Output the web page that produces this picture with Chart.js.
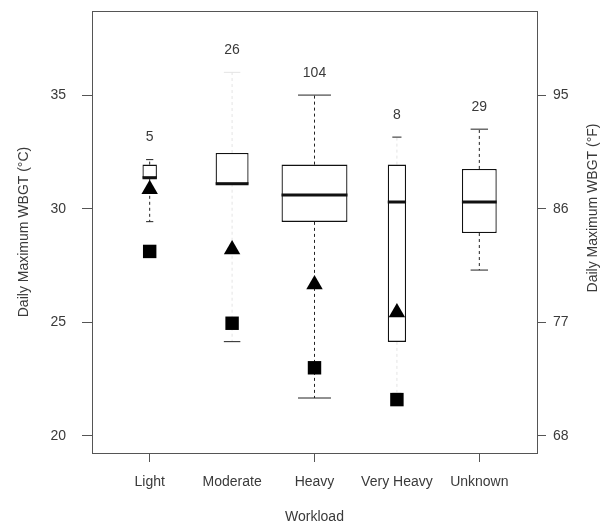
<!DOCTYPE html>
<html lang="en">
<head>
<meta charset="UTF-8">
<title>Daily Maximum WBGT by Workload</title>
<style>
  html, body { margin: 0; padding: 0; background: #fff; }
  #wrap { width: 604px; height: 524px; }
</style>
<script src="https://cdn.jsdelivr.net/npm/chart.js"></script>
</head>
<body>
<div id="wrap"><canvas id="chart"></canvas></div>
<script>
// workload groups and number of days in each
const workloads = ['Light', 'Moderate', 'Heavy', 'Very Heavy', 'Unknown'];
const counts = [5, 26, 104, 8, 29];

// box plot numbers in deg C
const whiskerLow  = [29.43, 24.15, 21.67, 21.9, 27.3];
const quartile1   = [31.36, 31.1, 29.42, 24.14, 28.93];
const medians     = [31.36, 31.1, 30.6, 30.3, 30.3];
const quartile3   = [31.94, 32.45, 31.94, 31.94, 31.75];
const whiskerHigh = [32.16, 36.0, 35.0, 33.15, 33.5];

// extra markers per group (none drawn for Unknown)
const triangles = [30.86, 28.2, 26.67, 25.43, null];
const squares   = [28.12, 24.96, 23.0, 21.6, null];

const celsiusTicks = [20, 25, 30, 35];
const fahrenheitTicks = [68, 77, 86, 95];

const yMin = 19.25, yMax = 38.7;
const toF = c => c * 1.8 + 32;

// these whiskers / caps come out very pale in the original scan
const paleWhiskers = ['Moderate', 'Very Heavy'];
const paleUpperCaps = ['Moderate'];
const paleLowerCaps = ['Very Heavy'];

Chart.defaults.font.family = '"Liberation Sans", Arial, sans-serif';
Chart.defaults.font.size = 14;
Chart.defaults.color = '#3a3a3a';

const maxN = Math.max(...counts);
const boxFrac = counts.map(n => 0.8 * Math.sqrt(n / maxN)); // varwidth boxes
const halfW = boxFrac.map(f => f / 2);

// turn [[a, b], ...] into points with a gap after each pair
function pieces(pairs) {
  const pts = [];
  pairs.forEach(([a, b]) => pts.push(a, b, { x: a.x, y: null }));
  return pts;
}

function whiskerPairs(pale) {
  const out = [];
  workloads.forEach((w, i) => {
    if (paleWhiskers.includes(w) !== pale) return;
    const x = i + 1;
    out.push([{ x, y: quartile3[i] }, { x, y: whiskerHigh[i] }]);
    out.push([{ x, y: quartile1[i] }, { x, y: whiskerLow[i] }]);
  });
  return out;
}

function capPairs(pale) {
  const out = [];
  workloads.forEach((w, i) => {
    const x = i + 1, c = halfW[i] / 2;
    if (paleUpperCaps.includes(w) === pale) out.push([{ x: x - c, y: whiskerHigh[i] }, { x: x + c, y: whiskerHigh[i] }]);
    if (paleLowerCaps.includes(w) === pale) out.push([{ x: x - c, y: whiskerLow[i] }, { x: x + c, y: whiskerLow[i] }]);
  });
  return out;
}

const lineBase = { type: 'line', pointRadius: 0, spanGaps: false, borderWidth: 1, fill: false };

const boxSets = workloads.map((w, i) => ({
  type: 'bar',
  label: w,
  data: [{ x: i + 1, y: [quartile1[i], quartile3[i]] }],
  grouped: false,
  categoryPercentage: 1,
  barPercentage: boxFrac[i],
  backgroundColor: '#fff',
  borderColor: '#111',
  borderWidth: 1.3,
  borderSkipped: false,
  order: 3
}));

const datasets = [
  Object.assign({}, lineBase, { label: 'whiskers', data: pieces(whiskerPairs(false)), borderColor: '#222', borderDash: [3, 3], order: 5 }),
  Object.assign({}, lineBase, { label: 'pale whiskers', data: pieces(whiskerPairs(true)), borderColor: '#e4e4e4', borderDash: [3, 3], order: 5 }),
  Object.assign({}, lineBase, { label: 'caps', data: pieces(capPairs(false)), borderColor: '#222', order: 4 }),
  Object.assign({}, lineBase, { label: 'pale caps', data: pieces(capPairs(true)), borderColor: '#e4e4e4', order: 4 }),
  ...boxSets,
  Object.assign({}, lineBase, {
    label: 'medians',
    data: pieces(workloads.map((w, i) => [{ x: i + 1 - halfW[i], y: medians[i] }, { x: i + 1 + halfW[i], y: medians[i] }])),
    borderColor: '#111', borderWidth: 3, borderCapStyle: 'butt', order: 2
  }),
  {
    type: 'line', label: 'triangles', showLine: false,
    data: triangles.map((v, i) => ({ x: i + 1, y: v })),
    pointStyle: 'triangle', pointRadius: 9.5, pointBorderWidth: 0,
    pointBackgroundColor: '#000', order: 1
  },
  {
    type: 'line', label: 'squares', showLine: false,
    data: squares.map((v, i) => ({ x: i + 1, y: v })),
    pointStyle: 'rect', pointRadius: 9.5, pointBorderWidth: 0,
    pointBackgroundColor: '#000', order: 1
  }
];

const extras = {
  id: 'extras',
  afterDatasetsDraw(chart) {
    const { ctx, chartArea: a, scales } = chart;
    ctx.save();
    // top side of the frame
    ctx.strokeStyle = '#555';
    ctx.lineWidth = 1;
    ctx.beginPath();
    ctx.moveTo(a.left, a.top + 0.5);
    ctx.lineTo(a.right, a.top + 0.5);
    ctx.stroke();
    // group sizes over the upper whisker
    ctx.fillStyle = '#3a3a3a';
    ctx.font = '14px "Liberation Sans", Arial, sans-serif';
    ctx.textAlign = 'center';
    ctx.textBaseline = 'middle';
    counts.forEach((n, i) => {
      ctx.fillText(String(n), scales.x.getPixelForValue(i + 1), scales.y.getPixelForValue(whiskerHigh[i]) - 22);
    });
    // right title, reading bottom to top like the left one
    ctx.translate(chart.width - 11, (a.top + a.bottom) / 2 - 24);
    ctx.rotate(-Math.PI / 2);
    ctx.fillText('Daily Maximum WBGT (°F)', 0, 0);
    ctx.restore();
  }
};

const noPad = s => { s.paddingTop = 0; s.paddingBottom = 0; };

new Chart(document.getElementById('chart'), {
  data: { datasets },
  plugins: [extras],
  options: {
    responsive: true,
    maintainAspectRatio: false,
    animation: false,
    layout: { padding: { top: 11, left: 0, right: 0, bottom: 0 } },
    plugins: { legend: { display: false }, tooltip: { enabled: false } },
    scales: {
      x: {
        type: 'linear', min: 0.3, max: 5.7, offset: false,
        afterBuildTicks: s => { s.ticks = workloads.map((w, i) => ({ value: i + 1 })); },
        afterFit: s => { s.height = 71; s.paddingLeft = 0; s.paddingRight = 0; },
        grid: { display: true, offset: false, drawOnChartArea: false, tickLength: 9, color: c => (c.index % 2 ? 'rgba(0,0,0,0)' : '#555') },
        border: { display: true, color: '#555', width: 1 },
        ticks: { autoSkip: false, maxRotation: 0, padding: 12, callback: (v, i) => workloads[i] },
        title: { display: true, text: 'Workload', font: { size: 14, lineHeight: 1 }, padding: { top: 0, bottom: 0 } }
      },
      y: {
        type: 'linear', position: 'left', min: yMin, max: yMax,
        afterBuildTicks: s => { s.ticks = celsiusTicks.map(v => ({ value: v })); },
        afterFit: s => { s.width = 92; noPad(s); },
        grid: { drawOnChartArea: false, tickLength: 10, color: '#555' },
        border: { display: true, color: '#555', width: 1 },
        ticks: { padding: 16 },
        title: { display: true, text: 'Daily Maximum WBGT (°C)', font: { size: 14, lineHeight: 1 }, padding: { top: 17, bottom: 0 } }
      },
      y2: {
        type: 'linear', position: 'right', min: toF(yMin), max: toF(yMax),
        afterBuildTicks: s => { s.ticks = fahrenheitTicks.map(v => ({ value: v })); },
        afterFit: s => { s.width = 67; noPad(s); },
        grid: { drawOnChartArea: false, tickLength: 9, color: '#555' },
        border: { display: true, color: '#555', width: 1 },
        ticks: { padding: 7 }
      }
    }
  }
});
</script>
</body>
</html>
